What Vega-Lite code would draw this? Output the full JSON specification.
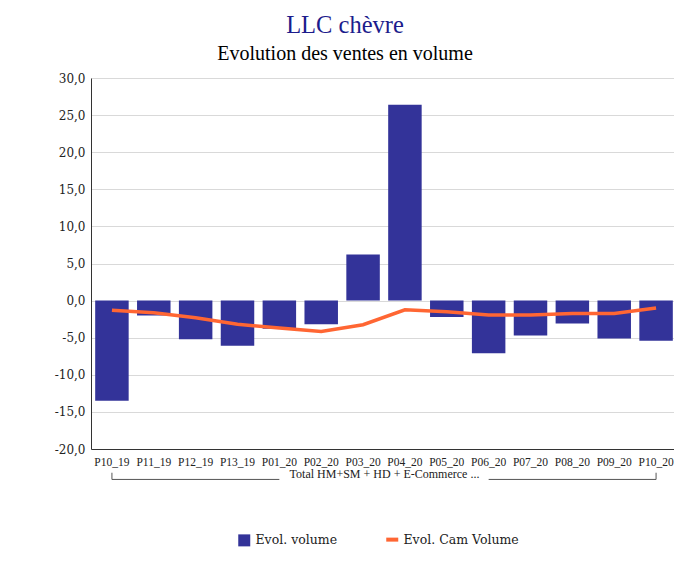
{
  "$schema": "https://vega.github.io/schema/vega-lite/v6.json",
  "width": 586,
  "height": 371,
  "autosize": {"type": "none"},
  "padding": {"left": 91, "top": 78, "right": 0, "bottom": 116},
  "background": "white",
  "config": {
    "view": {"stroke": null},
    "axisY": {
      "labelOverlap": false,
      "tickCount": 11,
      "labelFont": "DejaVu Serif",
      "labelFontSize": 12,
      "labelColor": "#222222",
      "labelPadding": 6,
      "ticks": false,
      "gridColor": "#d9d9d9",
      "gridWidth": 1,
      "domainColor": "#333333"
    }
  },
  "title": {
    "text": "LLC chèvre",
    "subtitle": "Evolution des ventes en volume",
    "anchor": "middle",
    "dx": -39,
    "offset": 7,
    "font": "Liberation Serif",
    "fontSize": 24.5,
    "fontWeight": "normal",
    "color": "#1c1c8c",
    "subtitleFont": "Liberation Serif",
    "subtitleFontSize": 20,
    "subtitleColor": "#000000",
    "subtitlePadding": 6
  },
  "data": {
    "values": [
      {"period": "P10_19", "vol": -13.5, "cam": -1.3},
      {"period": "P11_19", "vol": -2.0, "cam": -1.65},
      {"period": "P12_19", "vol": -5.2, "cam": -2.3},
      {"period": "P13_19", "vol": -6.1, "cam": -3.2},
      {"period": "P01_20", "vol": -3.8, "cam": -3.7},
      {"period": "P02_20", "vol": -3.2, "cam": -4.15},
      {"period": "P03_20", "vol": 6.2, "cam": -3.25},
      {"period": "P04_20", "vol": 26.4, "cam": -1.25},
      {"period": "P05_20", "vol": -2.2, "cam": -1.5},
      {"period": "P06_20", "vol": -7.1, "cam": -1.95},
      {"period": "P07_20", "vol": -4.7, "cam": -1.95},
      {"period": "P08_20", "vol": -3.1, "cam": -1.75},
      {"period": "P09_20", "vol": -5.1, "cam": -1.75},
      {"period": "P10_20", "vol": -5.4, "cam": -1.0}
    ]
  },
  "encoding": {
    "x": {
      "field": "period",
      "type": "nominal",
      "sort": null,
      "scale": {"paddingInner": 0.2, "paddingOuter": 0.1},
      "axis": {
        "title": "Total HM+SM + HD + E-Commerce ...",
        "titleFont": "Liberation Serif",
        "titleFontSize": 12,
        "titleFontWeight": "normal",
        "titleColor": "#222222",
        "titlePadding": 1,
        "labelFont": "Liberation Serif",
        "labelFontSize": 11.5,
        "labelColor": "#222222",
        "labelAngle": 0,
        "labelPadding": 7,
        "labelOverlap": false,
        "ticks": false,
        "grid": false,
        "domainColor": "#333333"
      }
    }
  },
  "layer": [
    {
      "mark": {"type": "bar"},
      "encoding": {
        "y": {
          "field": "vol",
          "type": "quantitative",
          "scale": {"domain": [-20, 30], "nice": false, "zero": false},
          "axis": {
            "title": null,
            "values": [-20, -15, -10, -5, 0, 5, 10, 15, 20, 25, 30],
            "labelExpr": "replace(replace(format(datum.value, '.1f'), '.', ','), '\u2212', '-')"
          }
        },
        "color": {
          "datum": "Evol. volume",
          "type": "nominal",
          "scale": {"domain": ["Evol. volume", "Evol. Cam Volume"], "range": ["#333399", "#FF6633"]},
          "legend": {
            "orient": "none",
            "legendX": 147,
            "legendY": 455,
            "direction": "horizontal",
            "title": null,
            "labelFont": "DejaVu Serif",
            "labelFontSize": 12.5,
            "labelColor": "#222222",
            "columnPadding": 40,
            "labelOffset": 5,
            "symbolSize": 144,
            "encode": {
              "symbols": {
                "update": {
                  "shape": {"signal": "datum.value === 'Evol. volume' ? 'square' : 'stroke'"},
                  "fill": {"signal": "datum.value === 'Evol. volume' ? '#333399' : 'transparent'"},
                  "stroke": {"signal": "datum.value === 'Evol. volume' ? 'transparent' : '#FF6633'"},
                  "strokeWidth": {"signal": "datum.value === 'Evol. volume' ? 0 : 4"},
                  "opacity": {"value": 1}
                }
              }
            }
          }
        }
      }
    },
    {
      "mark": {"type": "line", "strokeWidth": 3.5},
      "encoding": {
        "y": {
          "field": "cam",
          "type": "quantitative",
          "axis": {
            "title": null,
            "values": [-20, -15, -10, -5, 0, 5, 10, 15, 20, 25, 30],
            "labelExpr": "replace(replace(format(datum.value, '.1f'), '.', ','), '\u2212', '-')"
          }
        },
        "color": {"datum": "Evol. Cam Volume", "type": "nominal"}
      }
    },
    {
      "data": {"values": [{}]},
      "mark": {"type": "rule", "color": "#555555", "strokeWidth": 1},
      "encoding": {
        "x": {"datum": "P10_19"},
        "x2": {"datum": "P01_20"},
        "y": {"datum": -24.1, "type": "quantitative", "axis": {"title": null, "values": [-20, -15, -10, -5, 0, 5, 10, 15, 20, 25, 30]}}
      }
    },
    {
      "data": {"values": [{}]},
      "mark": {"type": "rule", "color": "#555555", "strokeWidth": 1},
      "encoding": {
        "x": {"datum": "P06_20"},
        "x2": {"datum": "P10_20"},
        "y": {"datum": -24.1, "type": "quantitative", "axis": {"title": null, "values": [-20, -15, -10, -5, 0, 5, 10, 15, 20, 25, 30]}}
      }
    },
    {
      "data": {"values": [{}]},
      "mark": {"type": "rule", "color": "#555555", "strokeWidth": 1},
      "encoding": {
        "x": {"datum": "P10_19"},
        "y": {"datum": -24.1, "type": "quantitative", "axis": {"title": null, "values": [-20, -15, -10, -5, 0, 5, 10, 15, 20, 25, 30]}},
        "y2": {"datum": -23.2}
      }
    },
    {
      "data": {"values": [{}]},
      "mark": {"type": "rule", "color": "#555555", "strokeWidth": 1},
      "encoding": {
        "x": {"datum": "P10_20"},
        "y": {"datum": -24.1, "type": "quantitative", "axis": {"title": null, "values": [-20, -15, -10, -5, 0, 5, 10, 15, 20, 25, 30]}},
        "y2": {"datum": -23.2}
      }
    }
  ]
}
